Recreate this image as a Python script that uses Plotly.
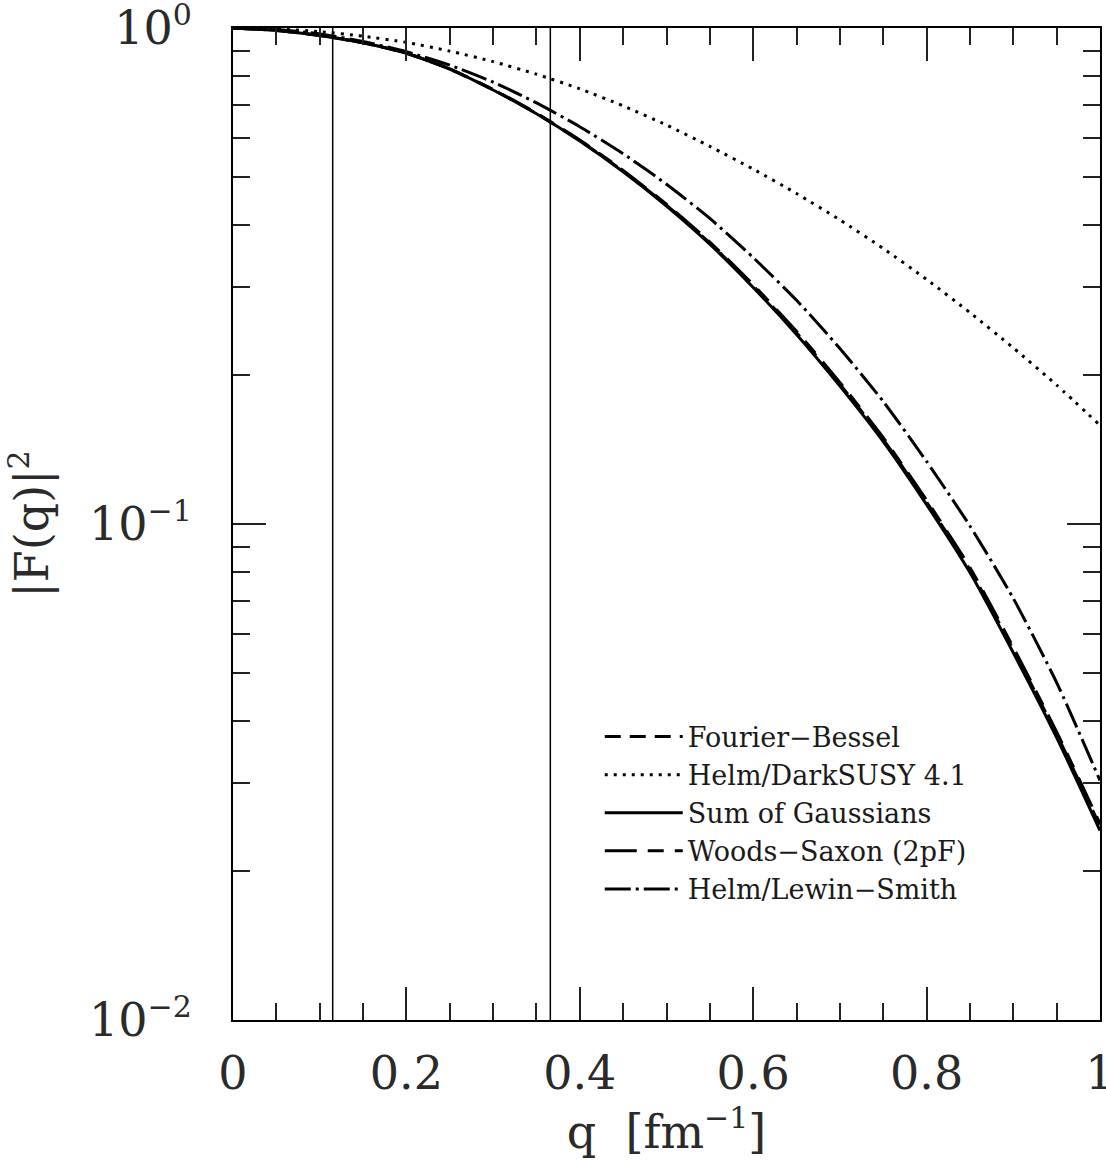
import plotly.graph_objects as go

# momentum transfer grid [fm^-1]
q = [0.00, 0.05, 0.10, 0.15, 0.20, 0.25, 0.30, 0.35, 0.40, 0.45, 0.50,
     0.55, 0.60, 0.65, 0.70, 0.75, 0.80, 0.85, 0.90, 0.95, 1.00]

# |F(q)|^2 for each nuclear form-factor model
fourier_bessel = [1.0, 0.9886, 0.9661, 0.9334, 0.8894, 0.8264, 0.7506, 0.6724, 0.5929, 0.5145, 0.4393,
                  0.3684, 0.3019, 0.2429, 0.1914, 0.1481, 0.1107, 0.0809, 0.0558, 0.0377, 0.0246]
helm_darksusy = [1.0, 0.9959, 0.9833, 0.9627, 0.9354, 0.8982, 0.8555, 0.8070, 0.7539, 0.6966, 0.6373,
                 0.5772, 0.5194, 0.4637, 0.4102, 0.3593, 0.3112, 0.2668, 0.2265, 0.1906, 0.1581]
sum_of_gaussians = [1.0, 0.9886, 0.9660, 0.9333, 0.8892, 0.8260, 0.7499, 0.6714, 0.5916, 0.5129, 0.4375,
                    0.3664, 0.2999, 0.2410, 0.1897, 0.1466, 0.1094, 0.0798, 0.0550, 0.0371, 0.0241]
woods_saxon = [1.0, 0.9887, 0.9663, 0.9338, 0.8900, 0.8273, 0.7518, 0.6739, 0.5946, 0.5163, 0.4412,
               0.3703, 0.3037, 0.2446, 0.1929, 0.1493, 0.1117, 0.0817, 0.0564, 0.0381, 0.0249]
helm_lewin_smith = [1.0, 0.9931, 0.9728, 0.9397, 0.8954, 0.8414, 0.7780, 0.7063, 0.6324, 0.5578, 0.4842,
                    0.4131, 0.3445, 0.2825, 0.2259, 0.1766, 0.1337, 0.0991, 0.0708, 0.0479, 0.0304]

# q values bounding the experimentally probed region
q_marks = [0.115, 0.366]

x_ticks = [0, 0.2, 0.4, 0.6, 0.8, 1]
x_tick_text = ["0", "0.2", "0.4", "0.6", "0.8", "1"]
y_ticks = [0.01, 0.1, 1]
y_exponents = ["−2", "−1", "0"]

FONT = "DejaVu Serif"
TEXT_COLOR = "#2a2a2a"

y_tick_text = [f"10<sup><span style='font-size:30px'>{e}</span></sup>" for e in y_exponents]

series = [
    ("Fourier−Bessel", fourier_bessel, "16px,9px"),
    ("Helm/DarkSUSY 4.1", helm_darksusy, "3px,6px"),
    ("Sum of Gaussians", sum_of_gaussians, "solid"),
    ("Woods−Saxon (2pF)", woods_saxon, "32px,11px,16px,11px"),
    ("Helm/Lewin−Smith", helm_lewin_smith, "26px,5px,3px,5px"),
]

fig = go.Figure()
for name, vals, dash in series:
    fig.add_trace(go.Scatter(
        x=q, y=vals, name=name, mode="lines",
        line=dict(color="black", width=3, dash=dash, shape="spline", smoothing=0.6),
    ))

for qm in q_marks:
    fig.add_shape(type="line", xref="x", yref="paper", x0=qm, x1=qm, y0=0, y1=1,
                  line=dict(color="black", width=1.5))

minor_y = [m * 10 ** e for e in (-2, -1) for m in range(2, 10)]
minor_x = [round(0.05 * i, 2) for i in range(1, 20) if i % 4 != 0]

fig.update_xaxes(
    range=[0, 1], tickvals=x_ticks, ticktext=x_tick_text,
    ticks="inside", ticklen=33, tickwidth=1.5, tickcolor="#222",
    showline=True, linecolor="black", linewidth=2, mirror="ticks",
    showgrid=False, zeroline=False, ticklabeloverflow="allow", automargin=False,
    tickfont=dict(family=FONT, size=46, color=TEXT_COLOR), ticklabelstandoff=12,
    minor=dict(tickvals=minor_x, ticks="inside", ticklen=17, tickwidth=1.5, tickcolor="#222", showgrid=False),
    title=dict(text="q  [fm<sup><span style='font-size:30px'>−1</span></sup>]",
               font=dict(family=FONT, size=46, color=TEXT_COLOR), standoff=14),
)
fig.update_yaxes(
    type="log", range=[-2, 0], tickvals=y_ticks, ticktext=y_tick_text,
    ticks="inside", ticklen=33, tickwidth=1.5, tickcolor="#222",
    showline=True, linecolor="black", linewidth=2, mirror="ticks",
    showgrid=False, zeroline=False, ticklabeloverflow="allow", automargin=False,
    tickfont=dict(family=FONT, size=46, color=TEXT_COLOR), ticklabelstandoff=30,
    minor=dict(tickvals=minor_y, ticks="inside", ticklen=17, tickwidth=1.5, tickcolor="#222", showgrid=False),
    title=dict(text="|F(q)|<sup><span style='font-size:30px'>2</span></sup>",
               font=dict(family=FONT, size=46, color=TEXT_COLOR), standoff=26),
)

fig.update_layout(
    width=1106, height=1164,
    margin=dict(l=233, r=6, t=28, b=144, autoexpand=False),
    plot_bgcolor="white", paper_bgcolor="white",
    font=dict(family=FONT, color="black"),
    legend=dict(
        x=0.423, y=0.31, xanchor="left", yanchor="top",
        bgcolor="rgba(0,0,0,0)", borderwidth=0,
        font=dict(family=FONT, size=27, color="#1a1a1a"),
        itemwidth=78, tracegroupgap=0,
    ),
    showlegend=True,
)

fig.write_html("out.html")
